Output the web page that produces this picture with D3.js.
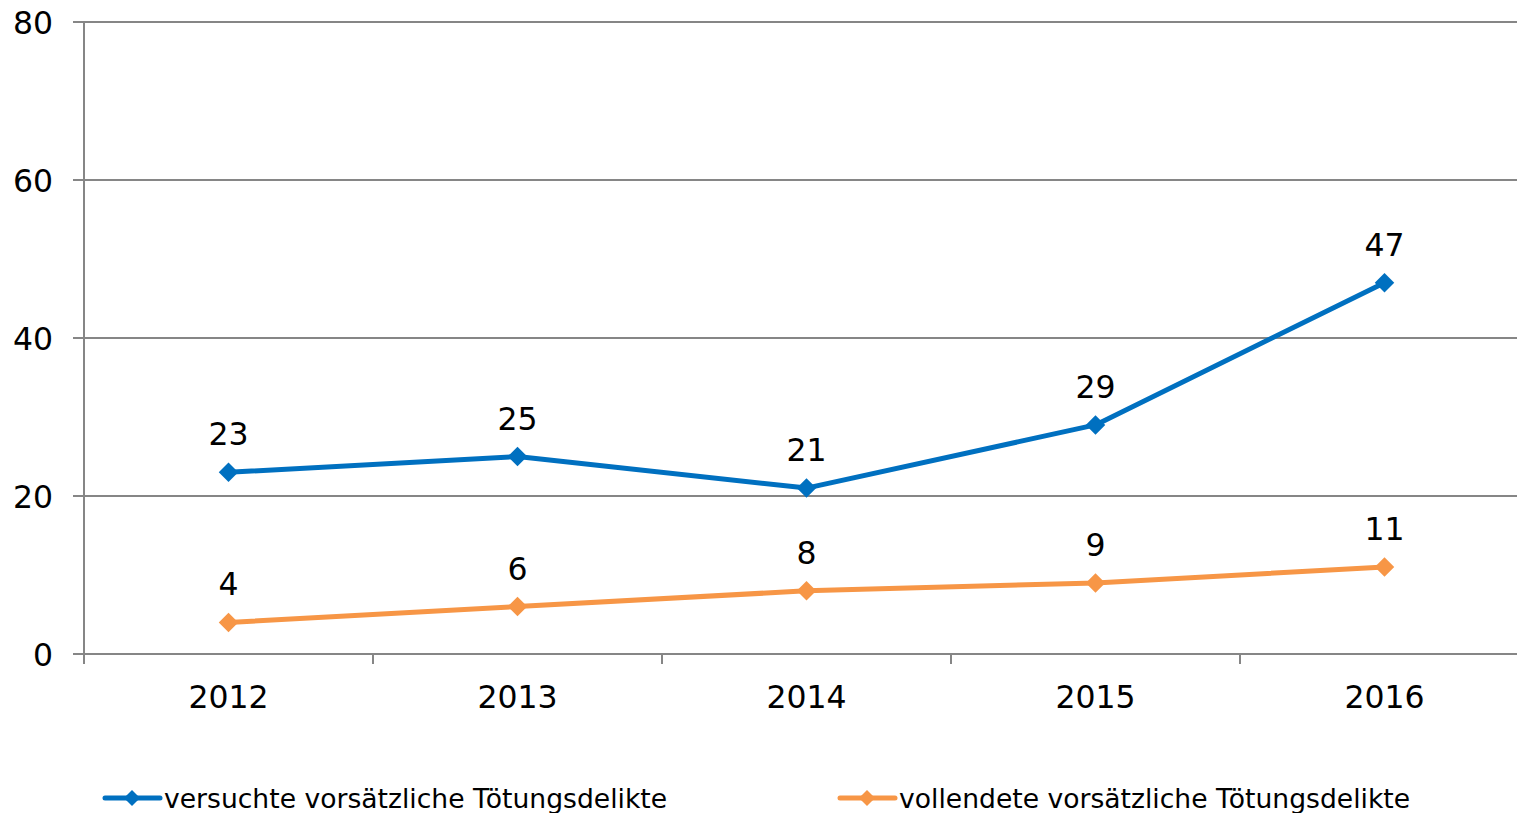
<!DOCTYPE html>
<html><head><meta charset="utf-8">
<script src="https://cdn.jsdelivr.net/npm/d3@7"></script>
<style>html,body{margin:0;padding:0;background:#fff;overflow:hidden}</style>
</head><body>
<svg id="c" width="1517" height="813"></svg>
<script>
const years = ["2012","2013","2014","2015","2016"];
const versucht = [23,25,21,29,47];
const vollendet = [4,6,8,9,11];
const yTicks = [0,20,40,60,80];
const seriesNames = ["versuchte vorsätzliche Tötungsdelikte","vollendete vorsätzliche Tötungsdelikte"];
const colors = ["#0070C0","#F79646"];

(function(){
const svg = d3.select("#c");
const font = "DejaVu Sans, Verdana, sans-serif";
const fs = 31.5;
const pL = 84, pR = 1529, pT = 22, pB = 654;
const x = d3.scaleBand().domain(years).range([pL, pR]);
const y = d3.scaleLinear().domain([0,80]).range([pB, pT]);

const g = svg.append("g");
g.selectAll("line.grid").data(yTicks).join("line")
  .attr("x1", pL-11).attr("x2", pR).attr("y1", d=>y(d)).attr("y2", d=>y(d))
  .attr("stroke","#868686").attr("stroke-width",2);
g.append("line").attr("x1",pL).attr("x2",pL).attr("y1",pT).attr("y2",pB+10)
  .attr("stroke","#868686").attr("stroke-width",2);
const xt = years.slice(0,4).map(d=>x(d)+x.bandwidth());
g.selectAll("line.xt").data(xt).join("line")
  .attr("x1",d=>d).attr("x2",d=>d).attr("y1",pB).attr("y2",pB+10)
  .attr("stroke","#868686").attr("stroke-width",2);

svg.selectAll("text.yl").data(yTicks).join("text")
  .attr("x", 53).attr("y", d=>y(d)+11.5).attr("text-anchor","end")
  .attr("font-family",font).attr("font-size",fs).attr("fill","#000").text(d=>d);
svg.selectAll("text.xl").data(years).join("text")
  .attr("x", d=>x(d)+x.bandwidth()/2).attr("y", 708).attr("text-anchor","middle")
  .attr("font-family",font).attr("font-size",fs).attr("fill","#000").text(d=>d);

const series = [versucht, vollendet];
const line = d3.line().x((d,i)=>x(years[i])+x.bandwidth()/2).y(d=>y(d));
series.forEach((vals,si)=>{
  svg.append("path").datum(vals).attr("d",line).attr("fill","none")
    .attr("stroke",colors[si]).attr("stroke-width",5).attr("stroke-linejoin","round");
  svg.selectAll(null).data(vals).join("path")
    .attr("d", d3.symbol().type(d3.symbolSquare).size(190))
    .attr("transform",(d,i)=>`translate(${x(years[i])+x.bandwidth()/2},${y(d)}) rotate(45)`)
    .attr("fill",colors[si]);
  svg.selectAll(null).data(vals).join("text")
    .attr("x",(d,i)=>x(years[i])+x.bandwidth()/2).attr("y",d=>y(d)-27)
    .attr("text-anchor","middle").attr("font-family",font).attr("font-size",fs)
    .attr("fill","#000").text(d=>d);
});

const legX = [105, 840];
seriesNames.forEach((n,i)=>{
  const lg = svg.append("g");
  lg.append("line").attr("x1",legX[i]).attr("x2",legX[i]+55).attr("y1",798).attr("y2",798)
    .attr("stroke",colors[i]).attr("stroke-width",5).attr("stroke-linecap","round");
  lg.append("path").attr("d", d3.symbol().type(d3.symbolSquare).size(130)())
    .attr("transform",`translate(${legX[i]+27},798) rotate(45)`).attr("fill",colors[i]);
  lg.append("text").attr("x",legX[i]+59).attr("y",808).attr("font-family",font)
    .attr("font-size",26.6).attr("fill","#000").text(n);
});
})();
</script>
</body></html>
